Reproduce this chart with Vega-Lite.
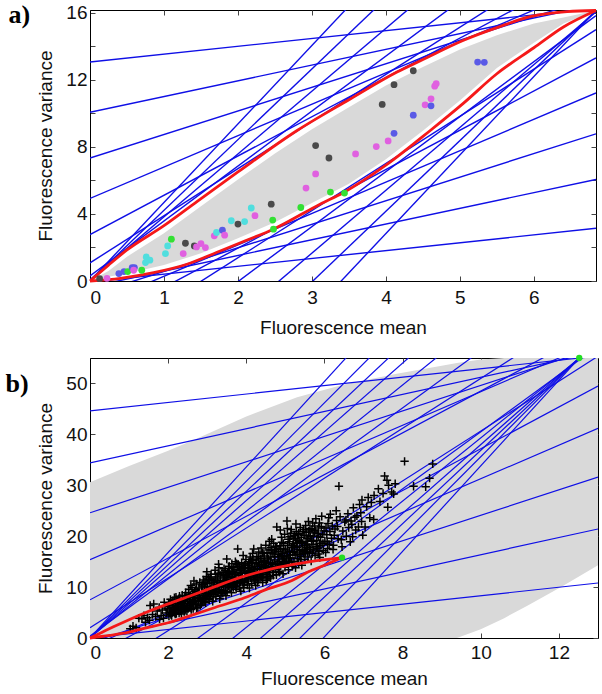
{
  "$schema": "https://vega.github.io/schema/vega-lite/v6.json",
  "padding": {"left": 5, "top": 1, "right": 1, "bottom": 2},
  "spacing": 16,
  "config": {
    "view": {"stroke": "black", "strokeWidth": 1},
    "axis": {"labelFont": "Liberation Sans", "titleFont": "Liberation Sans", "labelFontSize": 19, "titleFontSize": 19, "titleFontWeight": "normal", "labelColor": "#111", "titleColor": "#111", "domainColor": "black", "tickColor": "#444", "grid": false, "tickSize": -5}
  },
  "datasets": {
    "aGray": [
      {"x": 0, "gl": 0, "gu": 0}, {"x": 0.25, "gl": 0.25, "gu": 0.6}, {"x": 0.5, "gl": 0.45, "gu": 1.45}, {"x": 0.75, "gl": 0.7, "gu": 2.15},
      {"x": 1, "gl": 0.95, "gu": 2.85}, {"x": 1.5, "gl": 1.65, "gu": 4.45}, {"x": 2, "gl": 2.55, "gu": 6.05}, {"x": 2.5, "gl": 3.5, "gu": 7.6},
      {"x": 3, "gl": 4.65, "gu": 9.05}, {"x": 3.5, "gl": 5.8, "gu": 10.35}, {"x": 4, "gl": 7.25, "gu": 11.65}, {"x": 4.5, "gl": 8.95, "gu": 12.75},
      {"x": 5, "gl": 10.75, "gu": 13.8}, {"x": 5.5, "gl": 12.7, "gu": 14.65}, {"x": 6, "gl": 14.2, "gu": 15.35}, {"x": 6.4, "gl": 15.35, "gu": 15.7},
      {"x": 6.84, "gl": 16.12, "gu": 16.12}
    ],
    "aRed": [
      {"c": "u", "x": 0, "y": 0}, {"c": "u", "x": 0.25, "y": 0.95}, {"c": "u", "x": 0.5, "y": 1.85}, {"c": "u", "x": 1, "y": 3.3}, {"c": "u", "x": 1.45, "y": 4.75},
      {"c": "u", "x": 2, "y": 6.5}, {"c": "u", "x": 2.8, "y": 8.97}, {"c": "u", "x": 3.5, "y": 10.8}, {"c": "u", "x": 4.15, "y": 12.45}, {"c": "u", "x": 4.5, "y": 13.2},
      {"c": "u", "x": 5.05, "y": 14.35}, {"c": "u", "x": 5.5, "y": 15.1}, {"c": "u", "x": 5.95, "y": 15.75}, {"c": "u", "x": 6.45, "y": 16.05}, {"c": "u", "x": 6.84, "y": 16.12},
      {"c": "l", "x": 0, "y": 0}, {"c": "l", "x": 0.41, "y": 0.16}, {"c": "l", "x": 0.86, "y": 0.5}, {"c": "l", "x": 1.31, "y": 1.0}, {"c": "l", "x": 1.76, "y": 1.79},
      {"c": "l", "x": 2.1, "y": 2.4}, {"c": "l", "x": 2.48, "y": 3.09}, {"c": "l", "x": 3.11, "y": 4.58}, {"c": "l", "x": 3.43, "y": 5.28}, {"c": "l", "x": 4.0, "y": 6.9},
      {"c": "l", "x": 4.6, "y": 8.97}, {"c": "l", "x": 5.05, "y": 10.6}, {"c": "l", "x": 5.5, "y": 12.35}, {"c": "l", "x": 6.0, "y": 13.9}, {"c": "l", "x": 6.4, "y": 15.14}, {"c": "l", "x": 6.84, "y": 16.12}
    ],
    "aLines": [
      {"x1": 0, "y1": 13.05, "x2": 6.84, "y2": 16.25}, {"x1": 0, "y1": 10.06, "x2": 6.84, "y2": 16.46}, {"x1": 0, "y1": 7.33, "x2": 6.84, "y2": 16.93},
      {"x1": 0, "y1": 4.92, "x2": 6.84, "y2": 17.72}, {"x1": 0, "y1": 2.77, "x2": 6.84, "y2": 18.78}, {"x1": 0, "y1": 1.08, "x2": 6.84, "y2": 20.29},
      {"x1": 0, "y1": 0.3, "x2": 6.84, "y2": 22.71}, {"x1": 0, "y1": 0.08, "x2": 6.84, "y2": 25.69}, {"x1": 0, "y1": 0, "x2": 6.84, "y2": 28.81},
      {"x1": 0, "y1": 0, "x2": 6.84, "y2": 32.01},
      {"x1": 0, "y1": -0.06, "x2": 6.84, "y2": 3.14}, {"x1": 0, "y1": -0.35, "x2": 6.84, "y2": 6.05}, {"x1": 0, "y1": -0.83, "x2": 6.84, "y2": 8.77},
      {"x1": 0, "y1": -1.59, "x2": 6.84, "y2": 11.21}, {"x1": 0, "y1": -2.72, "x2": 6.84, "y2": 13.29}, {"x1": 0, "y1": -4.23, "x2": 6.84, "y2": 14.98},
      {"x1": 0, "y1": -6.59, "x2": 6.84, "y2": 15.82}, {"x1": 0, "y1": -9.57, "x2": 6.84, "y2": 16.04}, {"x1": 0, "y1": -12.69, "x2": 6.84, "y2": 16.12},
      {"x1": 0, "y1": -15.89, "x2": 6.84, "y2": 16.12}
    ],
    "aPts": [
      {"x": 0.13, "y": 0.14, "c": "dark"}, {"x": 0.23, "y": 0.16, "c": "magenta"}, {"x": 0.39, "y": 0.44, "c": "blue"}, {"x": 0.46, "y": 0.56, "c": "blue"},
      {"x": 0.51, "y": 0.56, "c": "green"}, {"x": 0.57, "y": 0.8, "c": "blue"}, {"x": 0.6, "y": 0.8, "c": "blue"}, {"x": 0.59, "y": 0.64, "c": "magenta"},
      {"x": 0.7, "y": 0.64, "c": "green"}, {"x": 0.75, "y": 1.1, "c": "cyan"}, {"x": 0.76, "y": 1.43, "c": "cyan"}, {"x": 0.81, "y": 1.24, "c": "cyan"},
      {"x": 1.02, "y": 1.63, "c": "cyan"}, {"x": 1.05, "y": 2.09, "c": "cyan"}, {"x": 1.1, "y": 2.49, "c": "green"}, {"x": 1.26, "y": 1.63, "c": "magenta"},
      {"x": 1.29, "y": 2.25, "c": "dark"}, {"x": 1.41, "y": 2.09, "c": "dark"}, {"x": 1.44, "y": 2.03, "c": "magenta"}, {"x": 1.5, "y": 2.23, "c": "magenta"},
      {"x": 1.56, "y": 1.99, "c": "magenta"}, {"x": 1.68, "y": 2.69, "c": "magenta"}, {"x": 1.71, "y": 2.89, "c": "cyan"}, {"x": 1.79, "y": 3.03, "c": "blue"},
      {"x": 1.82, "y": 2.73, "c": "magenta"}, {"x": 1.91, "y": 3.59, "c": "cyan"}, {"x": 2.0, "y": 3.39, "c": "dark"}, {"x": 2.09, "y": 3.54, "c": "cyan"},
      {"x": 2.18, "y": 4.35, "c": "cyan"}, {"x": 2.23, "y": 3.89, "c": "magenta"}, {"x": 2.45, "y": 4.58, "c": "dark"}, {"x": 2.47, "y": 3.63, "c": "green"},
      {"x": 2.48, "y": 3.09, "c": "green"}, {"x": 2.85, "y": 4.38, "c": "green"}, {"x": 2.92, "y": 5.54, "c": "magenta"}, {"x": 3.05, "y": 8.07, "c": "dark"},
      {"x": 3.05, "y": 6.38, "c": "magenta"}, {"x": 3.23, "y": 7.33, "c": "dark"}, {"x": 3.25, "y": 5.3, "c": "green"}, {"x": 3.44, "y": 5.24, "c": "green"},
      {"x": 3.59, "y": 7.57, "c": "magenta"}, {"x": 3.87, "y": 8.01, "c": "magenta"}, {"x": 3.95, "y": 10.52, "c": "dark"}, {"x": 4.03, "y": 8.35, "c": "magenta"},
      {"x": 4.11, "y": 8.8, "c": "blue"}, {"x": 4.11, "y": 11.7, "c": "dark"}, {"x": 4.37, "y": 9.88, "c": "blue"}, {"x": 4.37, "y": 12.53, "c": "dark"},
      {"x": 4.53, "y": 10.5, "c": "magenta"}, {"x": 4.61, "y": 10.86, "c": "magenta"}, {"x": 4.61, "y": 10.44, "c": "blue"}, {"x": 4.66, "y": 11.61, "c": "magenta"},
      {"x": 4.68, "y": 11.76, "c": "magenta"}, {"x": 5.24, "y": 13.05, "c": "blue"}, {"x": 5.33, "y": 13.03, "c": "blue"}
    ],
    "bGray": [
      {"x": 0, "gl": 0, "gu": 30.6}, {"x": 1, "gl": 0, "gu": 33.8}, {"x": 2, "gl": 0, "gu": 36.8}, {"x": 2.74, "gl": 0, "gu": 39.2},
      {"x": 4, "gl": 0, "gu": 43.5}, {"x": 5.3, "gl": 0, "gu": 47.3}, {"x": 6.5, "gl": 0, "gu": 49.8}, {"x": 7.85, "gl": 0, "gu": 51.9},
      {"x": 9, "gl": 0, "gu": 53.5}, {"x": 9.39, "gl": 0, "gu": 54.0}, {"x": 10, "gl": 1.7, "gu": 54.7}, {"x": 10.6, "gl": 3.9, "gu": 55},
      {"x": 11.18, "gl": 6.3, "gu": 55}, {"x": 12.1, "gl": 10.2, "gu": 55}, {"x": 13, "gl": 14.3, "gu": 55}
    ],
    "bRed": [
      {"c": "u", "x": 0, "y": 0}, {"c": "u", "x": 0.3, "y": 1.1}, {"c": "u", "x": 0.6, "y": 2.2}, {"c": "u", "x": 1.0, "y": 3.6}, {"c": "u", "x": 1.46, "y": 5.1},
      {"c": "u", "x": 2.0, "y": 6.7}, {"c": "u", "x": 2.61, "y": 8.4}, {"c": "u", "x": 3.2, "y": 10.1}, {"c": "u", "x": 3.89, "y": 12.0}, {"c": "u", "x": 4.5, "y": 13.3},
      {"c": "u", "x": 5.17, "y": 14.4}, {"c": "u", "x": 5.8, "y": 15.2}, {"c": "u", "x": 6.45, "y": 15.8},
      {"c": "l", "x": 0, "y": 0}, {"c": "l", "x": 0.5, "y": 0.5}, {"c": "l", "x": 1.0, "y": 1.15}, {"c": "l", "x": 1.33, "y": 1.8}, {"c": "l", "x": 2.0, "y": 3.0},
      {"c": "l", "x": 2.61, "y": 4.5}, {"c": "l", "x": 3.2, "y": 6.0}, {"c": "l", "x": 3.89, "y": 7.7}, {"c": "l", "x": 4.5, "y": 9.5}, {"c": "l", "x": 5.17, "y": 11.3},
      {"c": "l", "x": 5.59, "y": 13.0}, {"c": "l", "x": 6.0, "y": 14.3}, {"c": "l", "x": 6.45, "y": 15.8}
    ],
    "bGreen": [{"x": 6.45, "y": 15.8}, {"x": 12.52, "y": 55}],
    "bLines": [
      {"x1": 0, "y1": 44.6, "x2": 13, "y2": 55.39}, {"x1": 0, "y1": 34.4, "x2": 13, "y2": 56.24}, {"x1": 0, "y1": 24.6, "x2": 13, "y2": 57.1},
      {"x1": 0, "y1": 15.4, "x2": 13, "y2": 58.3}, {"x1": 0, "y1": 7.5, "x2": 13, "y2": 60.8}, {"x1": 0, "y1": 2.0, "x2": 13, "y2": 65.7},
      {"x1": 0, "y1": 0.4, "x2": 13, "y2": 73.2}, {"x1": 0, "y1": 0.1, "x2": 13, "y2": 80.7}, {"x1": 0, "y1": 0, "x2": 13, "y2": 87.75},
      {"x1": 0, "y1": 0, "x2": 13, "y2": 93.6}, {"x1": 0, "y1": 0, "x2": 13, "y2": 100.1}, {"x1": 0, "y1": 0, "x2": 13, "y2": 109.2},
      {"x1": 0, "y1": 0.01, "x2": 13, "y2": 10.8}, {"x1": 0, "y1": -0.43, "x2": 13, "y2": 21.41}, {"x1": 0, "y1": -0.9, "x2": 13, "y2": 31.6},
      {"x1": 0, "y1": -1.72, "x2": 13, "y2": 41.18}, {"x1": 0, "y1": -3.83, "x2": 13, "y2": 49.47}, {"x1": 0, "y1": -8.35, "x2": 13, "y2": 55.35},
      {"x1": 0, "y1": -15.51, "x2": 13, "y2": 57.3}, {"x1": 0, "y1": -22.72, "x2": 13, "y2": 57.9}, {"x1": 0, "y1": -29.51, "x2": 13, "y2": 58.24},
      {"x1": 0, "y1": -35.14, "x2": 13, "y2": 58.46}, {"x1": 0, "y1": -41.4, "x2": 13, "y2": 58.7}, {"x1": 0, "y1": -50.17, "x2": 13, "y2": 59.03}
    ],
    "bPts": [
      {"x":1.03,"y":1.8},{"x":1.1,"y":2.3},{"x":1.18,"y":2.0},{"x":1.25,"y":3.9},{"x":1.33,"y":3.8},{"x":1.42,"y":3.1},{"x":1.38,"y":4.4},{"x":1.47,"y":4.0},{"x":1.54,"y":6.4},{"x":1.63,"y":6.7},{"x":1.52,"y":3.5},{"x":1.6,"y":4.6},{"x":1.68,"y":4.2},{"x":1.72,"y":5.3},{"x":1.78,"y":3.7},{"x":1.77,"y":6.0},
      {"x":1.82,"y":4.4},{"x":1.85,"y":5.5},{"x":1.88,"y":3.9},{"x":1.92,"y":6.2},{"x":1.95,"y":4.9},{"x":1.98,"y":5.8},{"x":1.9,"y":7.0},
      {"x":2.02,"y":4.3},{"x":2.05,"y":6.5},{"x":2.08,"y":5.1},{"x":2.12,"y":7.3},{"x":2.15,"y":5.7},{"x":2.18,"y":4.7},{"x":2.1,"y":6.0},{"x":2.2,"y":8.0},
      {"x":2.22,"y":5.4},{"x":2.25,"y":6.8},{"x":2.28,"y":4.9},{"x":2.3,"y":7.7},{"x":2.33,"y":6.1},{"x":2.36,"y":8.4},{"x":2.38,"y":5.7},{"x":2.4,"y":7.1},
      {"x":2.42,"y":6.5},{"x":2.45,"y":8.9},{"x":2.48,"y":5.3},{"x":2.5,"y":7.5},{"x":2.53,"y":9.6},{"x":2.55,"y":6.1},{"x":2.57,"y":8.2},{"x":2.6,"y":6.9},{"x":2.58,"y":10.3},
      {"x":2.62,"y":7.6},{"x":2.64,"y":5.8},{"x":2.67,"y":9.2},{"x":2.7,"y":6.6},{"x":2.72,"y":10.6},{"x":2.74,"y":8.4},{"x":2.77,"y":7.2},{"x":2.79,"y":9.8},{"x":2.66,"y":11.2},
      {"x":2.82,"y":6.4},{"x":2.84,"y":8.0},{"x":2.86,"y":10.2},{"x":2.88,"y":7.3},{"x":2.9,"y":11.4},{"x":2.92,"y":8.8},{"x":2.94,"y":9.5},{"x":2.96,"y":6.9},{"x":2.98,"y":12.1},{"x":2.99,"y":13.0},{"x":2.97,"y":10.8},
      {"x":3.02,"y":7.8},{"x":3.04,"y":9.3},{"x":3.06,"y":11.5},{"x":3.08,"y":8.5},{"x":3.1,"y":12.5},{"x":3.12,"y":10.1},{"x":3.14,"y":7.2},{"x":3.16,"y":11.0},{"x":3.18,"y":9.7},{"x":3.2,"y":13.3},{"x":3.11,"y":8.9},
      {"x":3.22,"y":8.2},{"x":3.24,"y":10.5},{"x":3.26,"y":12.0},{"x":3.28,"y":9.1},{"x":3.3,"y":13.8},{"x":3.32,"y":7.7},{"x":3.34,"y":11.3},{"x":3.36,"y":10.0},{"x":3.38,"y":12.8},{"x":3.4,"y":8.8},{"x":3.29,"y":14.5},
      {"x":3.42,"y":9.4},{"x":3.44,"y":11.8},{"x":3.46,"y":13.2},{"x":3.48,"y":8.3},{"x":3.5,"y":15.5},{"x":3.52,"y":10.6},{"x":3.54,"y":12.5},{"x":3.56,"y":14.1},{"x":3.58,"y":9.9},{"x":3.6,"y":11.2},{"x":3.47,"y":10.2},{"x":3.55,"y":13.7},
      {"x":3.62,"y":8.9},{"x":3.64,"y":12.1},{"x":3.66,"y":10.4},{"x":3.68,"y":13.9},{"x":3.7,"y":11.6},{"x":3.72,"y":15.0},{"x":3.74,"y":9.6},{"x":3.76,"y":12.9},{"x":3.78,"y":17.5},{"x":3.79,"y":14.5},{"x":3.65,"y":11.0},{"x":3.73,"y":10.1},
      {"x":3.82,"y":10.8},{"x":3.84,"y":13.3},{"x":3.86,"y":9.2},{"x":3.88,"y":14.8},{"x":3.9,"y":12.2},{"x":3.92,"y":16.2},{"x":3.94,"y":10.4},{"x":3.96,"y":13.8},{"x":3.98,"y":11.6},{"x":3.99,"y":15.4},{"x":3.85,"y":12.7},{"x":3.93,"y":9.9},
      {"x":4.02,"y":11.2},{"x":4.04,"y":14.3},{"x":4.06,"y":12.6},{"x":4.08,"y":9.8},{"x":4.1,"y":15.9},{"x":4.12,"y":13.1},{"x":4.14,"y":10.7},{"x":4.16,"y":16.6},{"x":4.18,"y":12.0},{"x":4.19,"y":17.5},{"x":4.05,"y":13.7},{"x":4.13,"y":14.9},{"x":4.2,"y":11.5},
      {"x":4.22,"y":12.9},{"x":4.24,"y":10.3},{"x":4.26,"y":15.3},{"x":4.28,"y":13.6},{"x":4.3,"y":11.4},{"x":4.32,"y":16.9},{"x":4.34,"y":14.4},{"x":4.36,"y":12.2},{"x":4.38,"y":17.7},{"x":4.4,"y":15.0},{"x":4.25,"y":11.9},{"x":4.33,"y":13.0},
      {"x":4.42,"y":10.9},{"x":4.44,"y":13.8},{"x":4.46,"y":16.1},{"x":4.48,"y":12.5},{"x":4.5,"y":18.2},{"x":4.52,"y":14.6},{"x":4.54,"y":11.6},{"x":4.56,"y":15.5},{"x":4.58,"y":17.3},{"x":4.6,"y":13.2},{"x":4.45,"y":14.9},{"x":4.55,"y":12.8},{"x":4.59,"y":19.0},
      {"x":4.62,"y":11.8},{"x":4.64,"y":14.0},{"x":4.66,"y":16.7},{"x":4.68,"y":12.9},{"x":4.7,"y":18.6},{"x":4.72,"y":15.3},{"x":4.74,"y":13.5},{"x":4.76,"y":17.4},{"x":4.78,"y":21.8},{"x":4.79,"y":14.7},{"x":4.65,"y":19.4},{"x":4.73,"y":16.0},{"x":4.77,"y":12.4},
      {"x":4.82,"y":13.1},{"x":4.84,"y":15.9},{"x":4.86,"y":18.1},{"x":4.88,"y":14.2},{"x":4.9,"y":19.8},{"x":4.92,"y":16.6},{"x":4.94,"y":12.6},{"x":4.96,"y":17.5},{"x":4.98,"y":20.4},{"x":4.87,"y":21.2},{"x":4.95,"y":15.1},{"x":4.99,"y":13.9},
      {"x":5.02,"y":14.6},{"x":5.04,"y":23.0},{"x":5.06,"y":16.9},{"x":5.08,"y":13.4},{"x":5.1,"y":18.9},{"x":5.12,"y":15.7},{"x":5.14,"y":20.6},{"x":5.16,"y":17.8},{"x":5.18,"y":14.1},{"x":5.2,"y":19.6},{"x":5.05,"y":21.5},{"x":5.13,"y":16.3},
      {"x":5.22,"y":15.1},{"x":5.24,"y":18.0},{"x":5.26,"y":13.8},{"x":5.28,"y":20.9},{"x":5.3,"y":16.7},{"x":5.32,"y":19.2},{"x":5.34,"y":14.7},{"x":5.36,"y":17.4},{"x":5.38,"y":21.7},{"x":5.4,"y":16.0},{"x":5.27,"y":22.4},
      {"x":5.42,"y":14.3},{"x":5.44,"y":18.6},{"x":5.46,"y":16.6},{"x":5.48,"y":20.2},{"x":5.5,"y":15.4},{"x":5.52,"y":22.1},{"x":5.54,"y":17.8},{"x":5.56,"y":19.5},{"x":5.58,"y":15.9},{"x":5.6,"y":21.0},
      {"x":5.62,"y":16.9},{"x":5.64,"y":19.9},{"x":5.66,"y":15.1},{"x":5.68,"y":18.4},{"x":5.7,"y":22.6},{"x":5.72,"y":17.3},{"x":5.74,"y":20.8},{"x":5.76,"y":16.2},{"x":5.78,"y":23.4},{"x":5.8,"y":19.1},
      {"x":5.82,"y":17.7},{"x":5.85,"y":21.6},{"x":5.88,"y":15.8},{"x":5.9,"y":19.8},{"x":5.93,"y":23.9},{"x":5.96,"y":18.6},{"x":5.99,"y":21.0},{"x":5.86,"y":17.0},
      {"x":6.03,"y":16.8},{"x":6.06,"y":20.3},{"x":6.09,"y":22.5},{"x":6.12,"y":18.4},{"x":6.15,"y":24.3},{"x":6.18,"y":19.6},{"x":6.08,"y":17.6},
      {"x":6.23,"y":18.2},{"x":6.27,"y":21.4},{"x":6.31,"y":23.1},{"x":6.35,"y":19.5},{"x":6.37,"y":29.8},{"x":6.3,"y":25.0},
      {"x":6.45,"y":17.9},{"x":6.47,"y":21.0},{"x":6.52,"y":22.8},{"x":6.56,"y":20.0},{"x":6.6,"y":24.4},
      {"x":6.66,"y":18.9},{"x":6.7,"y":22.3},{"x":6.74,"y":25.6},{"x":6.78,"y":23.7},{"x":6.8,"y":21.2},
      {"x":6.87,"y":21.8},{"x":6.9,"y":26.2},{"x":6.93,"y":24.6},{"x":6.96,"y":27.1},{"x":6.98,"y":20.2},
      {"x":7.04,"y":21.8},{"x":7.08,"y":25.8},{"x":7.12,"y":27.6},{"x":7.16,"y":23.6},{"x":7.27,"y":28.0},{"x":7.26,"y":23.3},{"x":7.2,"y":26.6},
      {"x":7.38,"y":29.3},{"x":7.42,"y":26.8},{"x":7.54,"y":31.8},{"x":7.6,"y":31.0},{"x":7.62,"y":25.7},{"x":7.5,"y":28.4},
      {"x":7.64,"y":30.0},{"x":7.72,"y":28.7},{"x":7.77,"y":28.3},{"x":7.81,"y":30.3},
      {"x":8.05,"y":34.7},{"x":8.28,"y":29.8},{"x":8.59,"y":29.7},{"x":8.69,"y":31.4},{"x":8.77,"y":34.2},
      {"x":2.03,"y":5.5},{"x":2.07,"y":4.6},{"x":2.13,"y":6.4},{"x":2.17,"y":5.0},{"x":2.24,"y":6.2},{"x":2.27,"y":7.3},{"x":2.32,"y":5.3},{"x":2.35,"y":7.0},{"x":2.39,"y":6.4},{"x":2.44,"y":5.6},{"x":2.47,"y":7.9},{"x":2.49,"y":6.8},
      {"x":2.52,"y":8.6},{"x":2.56,"y":7.2},{"x":2.59,"y":5.6},{"x":2.63,"y":8.8},{"x":2.65,"y":7.0},{"x":2.69,"y":8.0},{"x":2.71,"y":9.5},{"x":2.76,"y":6.1},{"x":2.78,"y":8.9},{"x":2.81,"y":10.9},{"x":2.83,"y":7.5},{"x":2.87,"y":9.1},{"x":2.91,"y":7.9},{"x":2.93,"y":10.0},{"x":2.95,"y":8.4},
      {"x":3.01,"y":10.7},{"x":3.03,"y":8.8},{"x":3.07,"y":10.0},{"x":3.09,"y":12.0},{"x":3.13,"y":9.3},{"x":3.15,"y":8.1},{"x":3.19,"y":10.9},{"x":3.21,"y":12.5},{"x":3.23,"y":9.6},{"x":3.27,"y":11.0},{"x":3.31,"y":10.2},{"x":3.33,"y":12.4},{"x":3.37,"y":9.0},{"x":3.41,"y":11.1},{"x":3.43,"y":13.6},{"x":3.45,"y":10.8},{"x":3.49,"y":12.0},
      {"x":3.51,"y":9.2},{"x":3.53,"y":11.5},{"x":3.57,"y":13.0},{"x":3.59,"y":10.7},{"x":3.61,"y":12.6},{"x":3.63,"y":14.6},{"x":3.67,"y":9.9},{"x":3.69,"y":11.9},{"x":3.71,"y":13.4},{"x":3.75,"y":11.1},{"x":3.77,"y":14.0},{"x":3.81,"y":12.3},{"x":3.83,"y":9.8},{"x":3.87,"y":11.4},{"x":3.89,"y":13.6},{"x":3.91,"y":10.9},{"x":3.95,"y":14.3},{"x":3.97,"y":12.9},
      {"x":4.01,"y":12.2},{"x":4.03,"y":10.4},{"x":4.07,"y":15.0},{"x":4.09,"y":13.2},{"x":4.11,"y":11.8},{"x":4.15,"y":13.9},{"x":4.17,"y":15.5},{"x":4.21,"y":14.1},{"x":4.23,"y":12.4},{"x":4.27,"y":16.0},{"x":4.29,"y":10.9},{"x":4.31,"y":14.8},{"x":4.35,"y":13.5},{"x":4.37,"y":15.6},{"x":4.39,"y":11.9},{"x":4.41,"y":16.7},{"x":4.43,"y":12.9},{"x":4.47,"y":15.2},{"x":4.49,"y":13.9},
      {"x":4.51,"y":11.3},{"x":4.53,"y":16.8},{"x":4.57,"y":13.7},{"x":4.61,"y":15.9},{"x":4.63,"y":17.8},{"x":4.67,"y":14.5},{"x":4.69,"y":12.3},{"x":4.71,"y":16.5},{"x":4.75,"y":18.0},{"x":4.81,"y":15.0},{"x":4.83,"y":17.0},{"x":4.85,"y":12.9},{"x":4.89,"y":16.2},{"x":4.91,"y":18.8},{"x":4.93,"y":14.6},{"x":4.97,"y":16.0},
      {"x":5.01,"y":17.3},{"x":5.03,"y":15.3},{"x":5.07,"y":19.4},{"x":5.09,"y":14.9},{"x":5.11,"y":17.0},{"x":5.15,"y":21.3},{"x":5.19,"y":16.8},{"x":5.21,"y":18.5},{"x":5.23,"y":20.1},{"x":5.25,"y":16.3},{"x":5.29,"y":18.6},{"x":5.31,"y":15.6},{"x":5.33,"y":20.3},{"x":5.37,"y":18.9},{"x":5.39,"y":15.4},{"x":5.41,"y":19.8},{"x":5.43,"y":17.2},{"x":5.47,"y":21.3},{"x":5.49,"y":18.1},
      {"x":5.51,"y":16.9},{"x":5.53,"y":20.7},{"x":5.57,"y":18.3},{"x":5.59,"y":22.9},{"x":5.61,"y":17.8},{"x":5.63,"y":21.5},{"x":5.67,"y":19.2},{"x":5.69,"y":16.6},{"x":5.71,"y":20.0},{"x":5.75,"y":22.0},{"x":5.79,"y":18.0},{"x":5.81,"y":20.6},{"x":5.84,"y":16.5},{"x":5.87,"y":22.6},{"x":5.91,"y":18.2},{"x":5.95,"y":20.4},{"x":5.97,"y":17.2},
      {"x":6.01,"y":19.0},{"x":6.04,"y":21.6},{"x":6.07,"y":18.9},{"x":6.11,"y":23.6},{"x":6.14,"y":20.9},{"x":6.2,"y":22.0},{"x":6.22,"y":17.4},{"x":6.25,"y":20.2},{"x":6.33,"y":21.9},{"x":6.4,"y":23.8},{"x":6.43,"y":19.3},
      {"x":6.55,"y":23.2},{"x":6.62,"y":21.7},{"x":6.68,"y":23.0},{"x":6.72,"y":19.9},{"x":6.83,"y":24.0},{"x":6.95,"y":22.9},
      {"x":2.01,"y":6.9},{"x":2.04,"y":5.0},{"x":2.06,"y":7.6},{"x":2.09,"y":4.4},{"x":2.11,"y":6.7},{"x":2.14,"y":5.4},{"x":2.16,"y":7.9},{"x":2.19,"y":6.3},{"x":2.21,"y":4.8},{"x":2.23,"y":7.5},{"x":2.26,"y":5.9},{"x":2.29,"y":8.2},{"x":2.31,"y":6.6},{"x":2.34,"y":4.7},{"x":2.37,"y":7.4},{"x":2.41,"y":5.2},{"x":2.43,"y":8.3},{"x":2.46,"y":6.0},
      {"x":2.51,"y":5.8},{"x":2.54,"y":8.0},{"x":2.57,"y":6.4},{"x":2.61,"y":9.9},{"x":2.63,"y":6.8},{"x":2.66,"y":8.5},{"x":2.68,"y":7.3},{"x":2.73,"y":5.9},{"x":2.75,"y":9.1},{"x":2.8,"y":7.8},{"x":2.85,"y":6.7},{"x":2.89,"y":10.5},{"x":2.92,"y":7.1},{"x":2.94,"y":11.0},{"x":2.97,"y":8.2},{"x":2.99,"y":9.4},
      {"x":3.03,"y":11.8},{"x":3.05,"y":7.5},{"x":3.09,"y":9.6},{"x":3.12,"y":11.3},{"x":3.17,"y":8.6},{"x":3.2,"y":9.2},{"x":3.22,"y":11.6},{"x":3.25,"y":8.9},{"x":3.28,"y":12.7},{"x":3.31,"y":9.5},{"x":3.35,"y":8.4},{"x":3.39,"y":10.6},{"x":3.42,"y":12.3},{"x":3.46,"y":9.0},{"x":3.48,"y":11.4},
      {"x":3.52,"y":12.9},{"x":3.55,"y":10.2},{"x":3.58,"y":11.9},{"x":3.62,"y":10.0},{"x":3.65,"y":13.1},{"x":3.69,"y":10.7},{"x":3.72,"y":12.4},{"x":3.75,"y":14.6},{"x":3.78,"y":10.9},{"x":3.82,"y":14.1},{"x":3.85,"y":11.0},{"x":3.88,"y":12.7},{"x":3.92,"y":13.9},{"x":3.96,"y":11.1},{"x":3.98,"y":14.6},
      {"x":4.02,"y":13.0},{"x":4.05,"y":11.6},{"x":4.08,"y":14.6},{"x":4.12,"y":12.3},{"x":4.15,"y":15.2},{"x":4.18,"y":13.4},{"x":4.22,"y":11.2},{"x":4.25,"y":14.6},{"x":4.28,"y":12.6},{"x":4.31,"y":15.9},{"x":4.35,"y":11.8},{"x":4.38,"y":14.0},{"x":4.42,"y":12.0},{"x":4.45,"y":16.6},{"x":4.48,"y":14.3},
      {"x":4.52,"y":13.0},{"x":4.55,"y":15.7},{"x":4.58,"y":12.1},{"x":4.62,"y":14.9},{"x":4.65,"y":17.3},{"x":4.68,"y":13.6},{"x":4.72,"y":16.9},{"x":4.75,"y":14.1},{"x":4.78,"y":17.9},{"x":4.82,"y":16.4},{"x":4.85,"y":14.5},{"x":4.88,"y":17.6},{"x":4.92,"y":15.5},{"x":4.95,"y":18.6},{"x":4.98,"y":14.9},
      {"x":5.02,"y":16.1},{"x":5.06,"y":18.2},{"x":5.09,"y":15.7},{"x":5.12,"y":19.9},{"x":5.16,"y":15.0},{"x":5.19,"y":18.1},{"x":5.23,"y":17.0},{"x":5.26,"y":19.5},{"x":5.3,"y":17.8},{"x":5.34,"y":20.6},{"x":5.37,"y":16.4},{"x":5.41,"y":18.7},{"x":5.45,"y":20.9},{"x":5.48,"y":17.0},
      {"x":5.53,"y":19.0},{"x":5.56,"y":16.8},{"x":5.6,"y":20.1},{"x":5.64,"y":17.4},{"x":5.68,"y":21.3},{"x":5.72,"y":19.0},{"x":5.76,"y":21.1},{"x":5.8,"y":17.6},{"x":5.84,"y":20.0},{"x":5.88,"y":18.6},{"x":5.92,"y":21.9}
    ]
  },
  "vconcat": [
    {
      "width": 506,
      "height": 271,
      "title": {"text": "a)", "orient": "left", "anchor": "end", "angle": 0, "baseline": "top", "font": "Liberation Serif", "fontSize": 26, "fontWeight": "bold", "color": "black", "offset": -15, "dy": -2},
      "resolve": {"axis": {"x": "independent", "y": "independent"}},
      "layer": [
        {
          "data": {"name": "aGray"},
          "mark": {"type": "area", "color": "#d9d9d9", "opacity": 1},
          "encoding": {
            "x": {"field": "x", "type": "quantitative", "scale": {"domain": [0, 6.84], "nice": false, "zero": false},
                  "axis": {"orient": "bottom", "values": [0, 1, 2, 3, 4, 5, 6], "title": "Fluorescence  mean", "titlePadding": 11, "labelPadding": 12}},
            "y": {"field": "gl", "type": "quantitative", "scale": {"domain": [0, 16.15], "nice": false, "zero": false},
                  "axis": {"orient": "left", "values": [0, 2, 4, 6, 8, 10, 12, 14, 16], "labelExpr": "datum.value % 4 == 0 ? datum.label : ''", "title": "Fluorescence variance", "titlePadding": 10, "labelPadding": 8}},
            "y2": {"field": "gu"}
          }
        },
        {
          "data": {"name": "aLines"},
          "mark": {"type": "rule", "color": "#0f0fe6", "strokeWidth": 1.4, "clip": true},
          "encoding": {
            "x": {"field": "x1", "type": "quantitative", "axis": null}, "y": {"field": "y1", "type": "quantitative", "axis": null},
            "x2": {"field": "x2"}, "y2": {"field": "y2"}
          }
        },
        {
          "data": {"name": "aRed"},
          "mark": {"type": "line", "color": "#f51919", "strokeWidth": 2.8, "interpolate": "monotone"},
          "encoding": {
            "x": {"field": "x", "type": "quantitative", "axis": null}, "y": {"field": "y", "type": "quantitative", "axis": null},
            "detail": {"field": "c"}
          }
        },
        {
          "data": {"name": "aPts"},
          "mark": {"type": "point", "filled": true, "opacity": 1, "size": 46},
          "encoding": {
            "x": {"field": "x", "type": "quantitative", "axis": null}, "y": {"field": "y", "type": "quantitative", "axis": null},
            "color": {"field": "c", "type": "nominal", "legend": null,
                      "scale": {"domain": ["dark", "magenta", "cyan", "blue", "green"], "range": ["#4a4a4a", "#e060e0", "#50dede", "#5a5ae6", "#33e033"]}}
          }
        },
        {
          "data": {"values": [{"x": 0, "y": 0}]},
          "mark": {"type": "point", "opacity": 0},
          "encoding": {
            "x": {"field": "x", "type": "quantitative", "axis": {"orient": "top", "values": [0, 1, 2, 3, 4, 5, 6], "labels": false, "title": null, "domain": false}},
            "y": {"field": "y", "type": "quantitative", "axis": {"orient": "right", "values": [0, 2, 4, 6, 8, 10, 12, 14, 16], "labels": false, "title": null, "domain": false}}
          }
        }
      ]
    },
    {
      "width": 508,
      "height": 280,
      "title": {"text": "b)", "orient": "left", "anchor": "end", "angle": 0, "baseline": "top", "font": "Liberation Serif", "fontSize": 26, "fontWeight": "bold", "color": "black", "offset": -15, "dy": 16},
      "resolve": {"axis": {"x": "independent", "y": "independent"}},
      "layer": [
        {
          "data": {"name": "bGray"},
          "mark": {"type": "area", "color": "#d9d9d9", "opacity": 1},
          "encoding": {
            "x": {"field": "x", "type": "quantitative", "scale": {"domain": [0, 13], "nice": false, "zero": false},
                  "axis": {"orient": "bottom", "values": [0, 2, 4, 6, 8, 10, 12], "title": "Fluorescence mean", "titlePadding": 7, "labelPadding": 10}},
            "y": {"field": "gl", "type": "quantitative", "scale": {"domain": [0, 55], "nice": false, "zero": false},
                  "axis": {"orient": "left", "values": [0, 10, 20, 30, 40, 50], "title": "Fluorescence variance", "titlePadding": 10, "labelPadding": 8}},
            "y2": {"field": "gu"}
          }
        },
        {
          "data": {"name": "bLines"},
          "mark": {"type": "rule", "color": "#0f0fe6", "strokeWidth": 1.2, "clip": true},
          "encoding": {
            "x": {"field": "x1", "type": "quantitative", "axis": null}, "y": {"field": "y1", "type": "quantitative", "axis": null},
            "x2": {"field": "x2"}, "y2": {"field": "y2"}
          }
        },
        {
          "data": {"name": "bPts"},
          "mark": {"type": "point", "shape": "M-1,0H1M0,-1V1", "filled": false, "color": "black", "strokeWidth": 1.5, "size": 70, "opacity": 1},
          "encoding": {
            "x": {"field": "x", "type": "quantitative", "axis": null}, "y": {"field": "y", "type": "quantitative", "axis": null}
          }
        },
        {
          "data": {"name": "bRed"},
          "mark": {"type": "line", "color": "#f51919", "strokeWidth": 2.8, "interpolate": "monotone"},
          "encoding": {
            "x": {"field": "x", "type": "quantitative", "axis": null}, "y": {"field": "y", "type": "quantitative", "axis": null},
            "detail": {"field": "c"}
          }
        },
        {
          "data": {"name": "bGreen"},
          "mark": {"type": "point", "filled": true, "color": "#22dd22", "size": 40, "opacity": 1, "clip": false},
          "encoding": {
            "x": {"field": "x", "type": "quantitative", "axis": null}, "y": {"field": "y", "type": "quantitative", "axis": null}
          }
        },
        {
          "data": {"values": [{"x": 0, "y": 0}]},
          "mark": {"type": "point", "opacity": 0},
          "encoding": {
            "x": {"field": "x", "type": "quantitative", "axis": {"orient": "top", "values": [0, 2, 4, 6, 8, 10, 12], "labels": false, "title": null, "domain": false}},
            "y": {"field": "y", "type": "quantitative", "axis": {"orient": "right", "values": [0, 10, 20, 30, 40, 50], "labels": false, "title": null, "domain": false}}
          }
        }
      ]
    }
  ]
}
